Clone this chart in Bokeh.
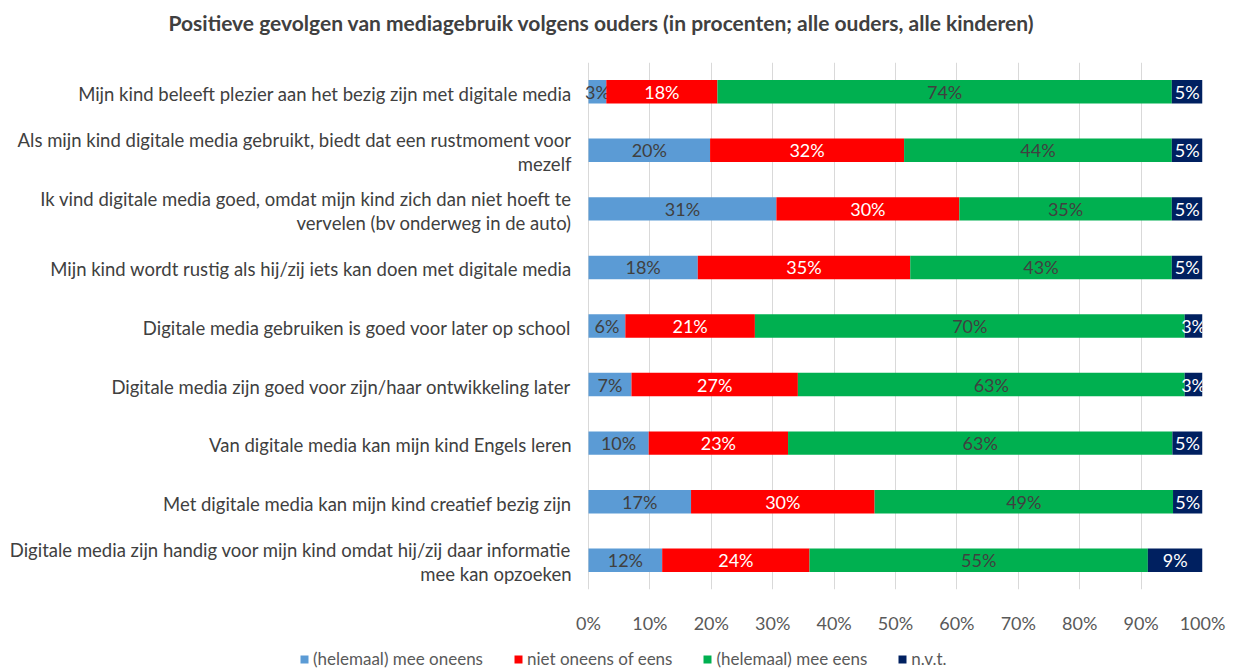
from bokeh.plotting import figure
from bokeh.models import (FactorRange, Range1d, FixedTicker, Legend, LegendItem,
                          ColumnDataSource, PrintfTickFormatter)
from bokeh.layouts import column
from bokeh.core.properties import value
from bokeh.embed import file_html
from bokeh.resources import INLINE

title = "Positieve gevolgen van mediagebruik volgens ouders (in procenten; alle ouders, alle kinderen)"

categories = [
    "Mijn kind beleeft plezier aan het bezig zijn met digitale media",
    "Als mijn kind digitale media gebruikt, biedt dat een rustmoment voor mezelf",
    "Ik vind digitale media goed, omdat mijn kind zich dan niet hoeft te vervelen (bv onderweg in de auto)",
    "Mijn kind wordt rustig als hij/zij iets kan doen met digitale media",
    "Digitale media gebruiken is goed voor later op school",
    "Digitale media zijn goed voor zijn/haar ontwikkeling later",
    "Van digitale media kan mijn kind Engels leren",
    "Met digitale media kan mijn kind creatief bezig zijn",
    "Digitale media zijn handig voor mijn kind omdat hij/zij daar informatie mee kan opzoeken",
]
category_lines = [
    "Mijn kind beleeft plezier aan het bezig zijn met digitale media",
    "Als mijn kind digitale media gebruikt, biedt dat een rustmoment voor\nmezelf",
    "Ik vind digitale media goed, omdat mijn kind zich dan niet hoeft te\nvervelen (bv onderweg in de auto)",
    "Mijn kind wordt rustig als hij/zij iets kan doen met digitale media",
    "Digitale media gebruiken is goed voor later op school",
    "Digitale media zijn goed voor zijn/haar ontwikkeling later",
    "Van digitale media kan mijn kind Engels leren",
    "Met digitale media kan mijn kind creatief bezig zijn",
    "Digitale media zijn handig voor mijn kind omdat hij/zij daar informatie\nmee kan opzoeken",
]

series_names = ["(helemaal) mee oneens", "niet oneens of eens", "(helemaal) mee eens", "n.v.t."]
oneens = [2.9, 19.8, 30.6, 17.8, 6.0, 7.0, 9.8, 16.7, 12.0]
neutraal = [18.1, 31.6, 29.8, 34.6, 21.1, 27.1, 22.7, 29.9, 24.0]
eens = [74.0, 43.6, 34.6, 42.6, 70.0, 63.0, 62.6, 48.6, 55.1]
nvt = [5.0, 5.0, 5.0, 5.0, 2.9, 2.9, 4.9, 4.8, 8.9]

x_ticks = [0, 10, 20, 30, 40, 50, 60, 70, 80, 90, 100]

colors = ["#5B9BD5", "#FF0000", "#00B050", "#002060"]
label_colors = ["#404040", "#FFFFFF", "#404040", "#FFFFFF"]
FONT = "Lato"

# frame spans the label area; 0..100 % occupies the right 614 px of it
PX_PER_UNIT = 614 / 100.0
LEFT_PX = 588

# ---- title strip ----
top = figure(width=1234, height=62, output_backend="svg", toolbar_location=None,
             x_range=Range1d(0, 1), y_range=Range1d(0, 1), title=title,
             min_border_left=0, min_border_right=14, min_border_top=0, min_border_bottom=0)
top.outline_line_color = None
top.axis.visible = False
top.grid.visible = False
top.title.align = "center"
top.title.vertical_align = "bottom"
top.title.text_font = FONT
top.title.text_font_size = "21px"
top.title.text_font_style = "bold"
top.title.text_color = "#404040"
top.title.standoff = 15

# ---- main chart ----
p = figure(width=1234, height=574, output_backend="svg", toolbar_location=None,
           y_range=FactorRange(factors=list(reversed(categories)), range_padding=0),
           x_range=Range1d(-LEFT_PX / PX_PER_UNIT, 100),
           min_border_left=0, min_border_right=32, min_border_top=0, min_border_bottom=42)
p.outline_line_color = None
p.background_fill_color = "white"

all_series = [oneens, neutraal, eens, nvt]
lefts = [0.0] * len(categories)
for name, vals, col, lcol in zip(series_names, all_series, colors, label_colors):
    rights = [l + v for l, v in zip(lefts, vals)]
    src = ColumnDataSource(dict(
        y=categories, left=lefts, right=rights,
        mid=[l + v / 2 for l, v in zip(lefts, vals)],
        txt=[f"{v:.0f}%" for v in vals]))
    p.hbar(y="y", left="left", right="right", height=0.4, source=src,
           fill_color=col, line_color=None)
    p.text(x="mid", y="y", text="txt", source=src, text_align="center",
           text_baseline="middle", text_color=lcol, text_font=value(FONT),
           text_font_size="18px")
    lefts = rights

# category labels (drawn left of the 0 % line)
cat_src = ColumnDataSource(dict(y=categories, txt=category_lines,
                                x=[-17 / PX_PER_UNIT] * len(categories)))
p.text(x="x", y="y", text="txt", source=cat_src, text_align="right",
       text_baseline="middle", text_color="#404040", text_font=value(FONT),
       text_font_size="18.5px", text_line_height=1.1, y_offset=2)

p.xgrid.ticker = FixedTicker(ticks=x_ticks)
p.xgrid.grid_line_color = "#D9D9D9"
p.ygrid.grid_line_color = None
p.xaxis.ticker = FixedTicker(ticks=x_ticks)
p.xaxis.formatter = PrintfTickFormatter(format="%d%%")
p.xaxis.axis_line_color = None
p.xaxis.major_tick_line_color = None
p.xaxis.minor_tick_line_color = None
p.xaxis.major_label_standoff = 16
p.xaxis.major_label_text_font = FONT
p.xaxis.major_label_text_font_size = "18px"
p.xaxis.major_label_text_color = "#595959"
p.yaxis.visible = False

# ---- legend strip ----
lg = figure(width=1234, height=34, output_backend="svg", toolbar_location=None,
            x_range=Range1d(0, 1), y_range=Range1d(0, 1),
            min_border_left=0, min_border_right=0, min_border_top=0, min_border_bottom=0)
lg.outline_line_color = None
lg.axis.visible = False
lg.grid.visible = False
items = []
for name, col in zip(series_names, colors):
    # legend proxy: a single bar placed outside the visible range
    r = lg.hbar(y=[-10], left=[0], right=[1], height=0.5, fill_color=col, line_color=None)
    items.append(LegendItem(label=name, renderers=[r]))
legend = Legend(items=items, orientation="horizontal", location=(299, 1),
                label_text_font=FONT, label_text_font_size="17px", label_text_color="#595959",
                glyph_width=10, glyph_height=10, label_standoff=4, spacing=30,
                padding=0, margin=0, border_line_color=None, background_fill_alpha=0)
lg.add_layout(legend, "center")

layout = column(top, p, lg, spacing=0)
open("out.html", "w").write(file_html(layout, INLINE))
